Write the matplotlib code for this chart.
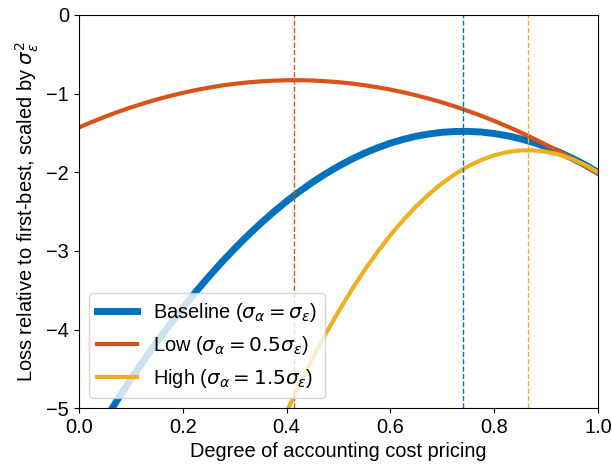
import numpy as np
import matplotlib.pyplot as plt

plt.rcParams['font.family'] = ['Liberation Sans', 'DejaVu Sans']
plt.rcParams['mathtext.fontset'] = 'dejavusans'

# values
x = [0.000, 0.025, 0.050, 0.075, 0.100, 0.125, 0.150, 0.175, 0.200, 0.225,
     0.250, 0.275, 0.300, 0.325, 0.350, 0.375, 0.400, 0.425, 0.450, 0.475,
     0.500, 0.525, 0.550, 0.575, 0.600, 0.625, 0.650, 0.675, 0.700, 0.725,
     0.750, 0.775, 0.800, 0.825, 0.850, 0.875, 0.900, 0.925, 0.950, 0.975, 1.000]
baseline = [-5.697, -5.416, -5.146, -4.885, -4.634, -4.392, -4.160, -3.938, -3.725, -3.522,
            -3.329, -3.145, -2.971, -2.806, -2.651, -2.506, -2.370, -2.244, -2.128, -2.021,
            -1.924, -1.836, -1.758, -1.690, -1.631, -1.582, -1.542, -1.513, -1.492, -1.482,
            -1.481, -1.489, -1.508, -1.536, -1.573, -1.620, -1.677, -1.744, -1.820, -1.905, -2.001]
low = [-1.431, -1.361, -1.295, -1.233, -1.176, -1.124, -1.075, -1.031, -0.991, -0.956,
       -0.925, -0.898, -0.876, -0.858, -0.845, -0.836, -0.831, -0.830, -0.834, -0.843,
       -0.855, -0.872, -0.894, -0.919, -0.949, -0.984, -1.023, -1.066, -1.113, -1.165,
       -1.222, -1.282, -1.347, -1.417, -1.490, -1.568, -1.651, -1.737, -1.825, -1.917, -2.012]
x_high = [0.375, 0.400, 0.425, 0.450, 0.475, 0.500, 0.525, 0.550, 0.575, 0.600,
          0.625, 0.650, 0.675, 0.700, 0.725, 0.750, 0.775, 0.800, 0.825, 0.850,
          0.875, 0.900, 0.925, 0.950, 0.975, 1.000]
high = [-5.418, -5.050, -4.701, -4.372, -4.062, -3.772, -3.500, -3.248, -3.015, -2.801,
        -2.607, -2.432, -2.276, -2.139, -2.022, -1.924, -1.845, -1.785, -1.745, -1.723,
        -1.722, -1.739, -1.775, -1.831, -1.906, -2.001]

# optimal degree for each case
opt_base = 0.74
opt_low = 0.415
opt_high = 0.865

blue = '#0072BD'
orange = '#D95319'
yellow = '#EDB120'
fs = 14.4

fig = plt.figure(figsize=(6.12, 4.66), dpi=100)
ax = fig.add_axes([0.129, 0.124, 0.848, 0.844])

ax.plot(x, baseline, color=blue, lw=5, label=r'Baseline ($\sigma_\alpha = \sigma_\varepsilon$)')
ax.plot(x, low, color=orange, lw=3, label=r'Low ($\sigma_\alpha = 0.5\sigma_\varepsilon$)')
ax.plot(x_high, high, color=yellow, lw=3, label=r'High ($\sigma_\alpha = 1.5\sigma_\varepsilon$)')

ax.axvline(opt_base, color=blue, ls='--', lw=1)
ax.axvline(opt_low, color=orange, ls='--', lw=1)
ax.axvline(opt_high, color=yellow, ls='--', lw=1)

ax.set_xlim(0, 1)
ax.set_ylim(-5, 0)
ax.set_xticks([0, 0.2, 0.4, 0.6, 0.8, 1.0])
ax.set_yticks([0, -1, -2, -3, -4, -5])
ax.tick_params(labelsize=fs)
ax.set_xlabel('Degree of accounting cost pricing', fontsize=fs)
ax.set_ylabel(r'Loss relative to first-best, scaled by $\sigma_\varepsilon^2$', fontsize=fs)
ax.legend(loc='lower left', fontsize=fs)

fig.savefig('out.png', dpi=100)
